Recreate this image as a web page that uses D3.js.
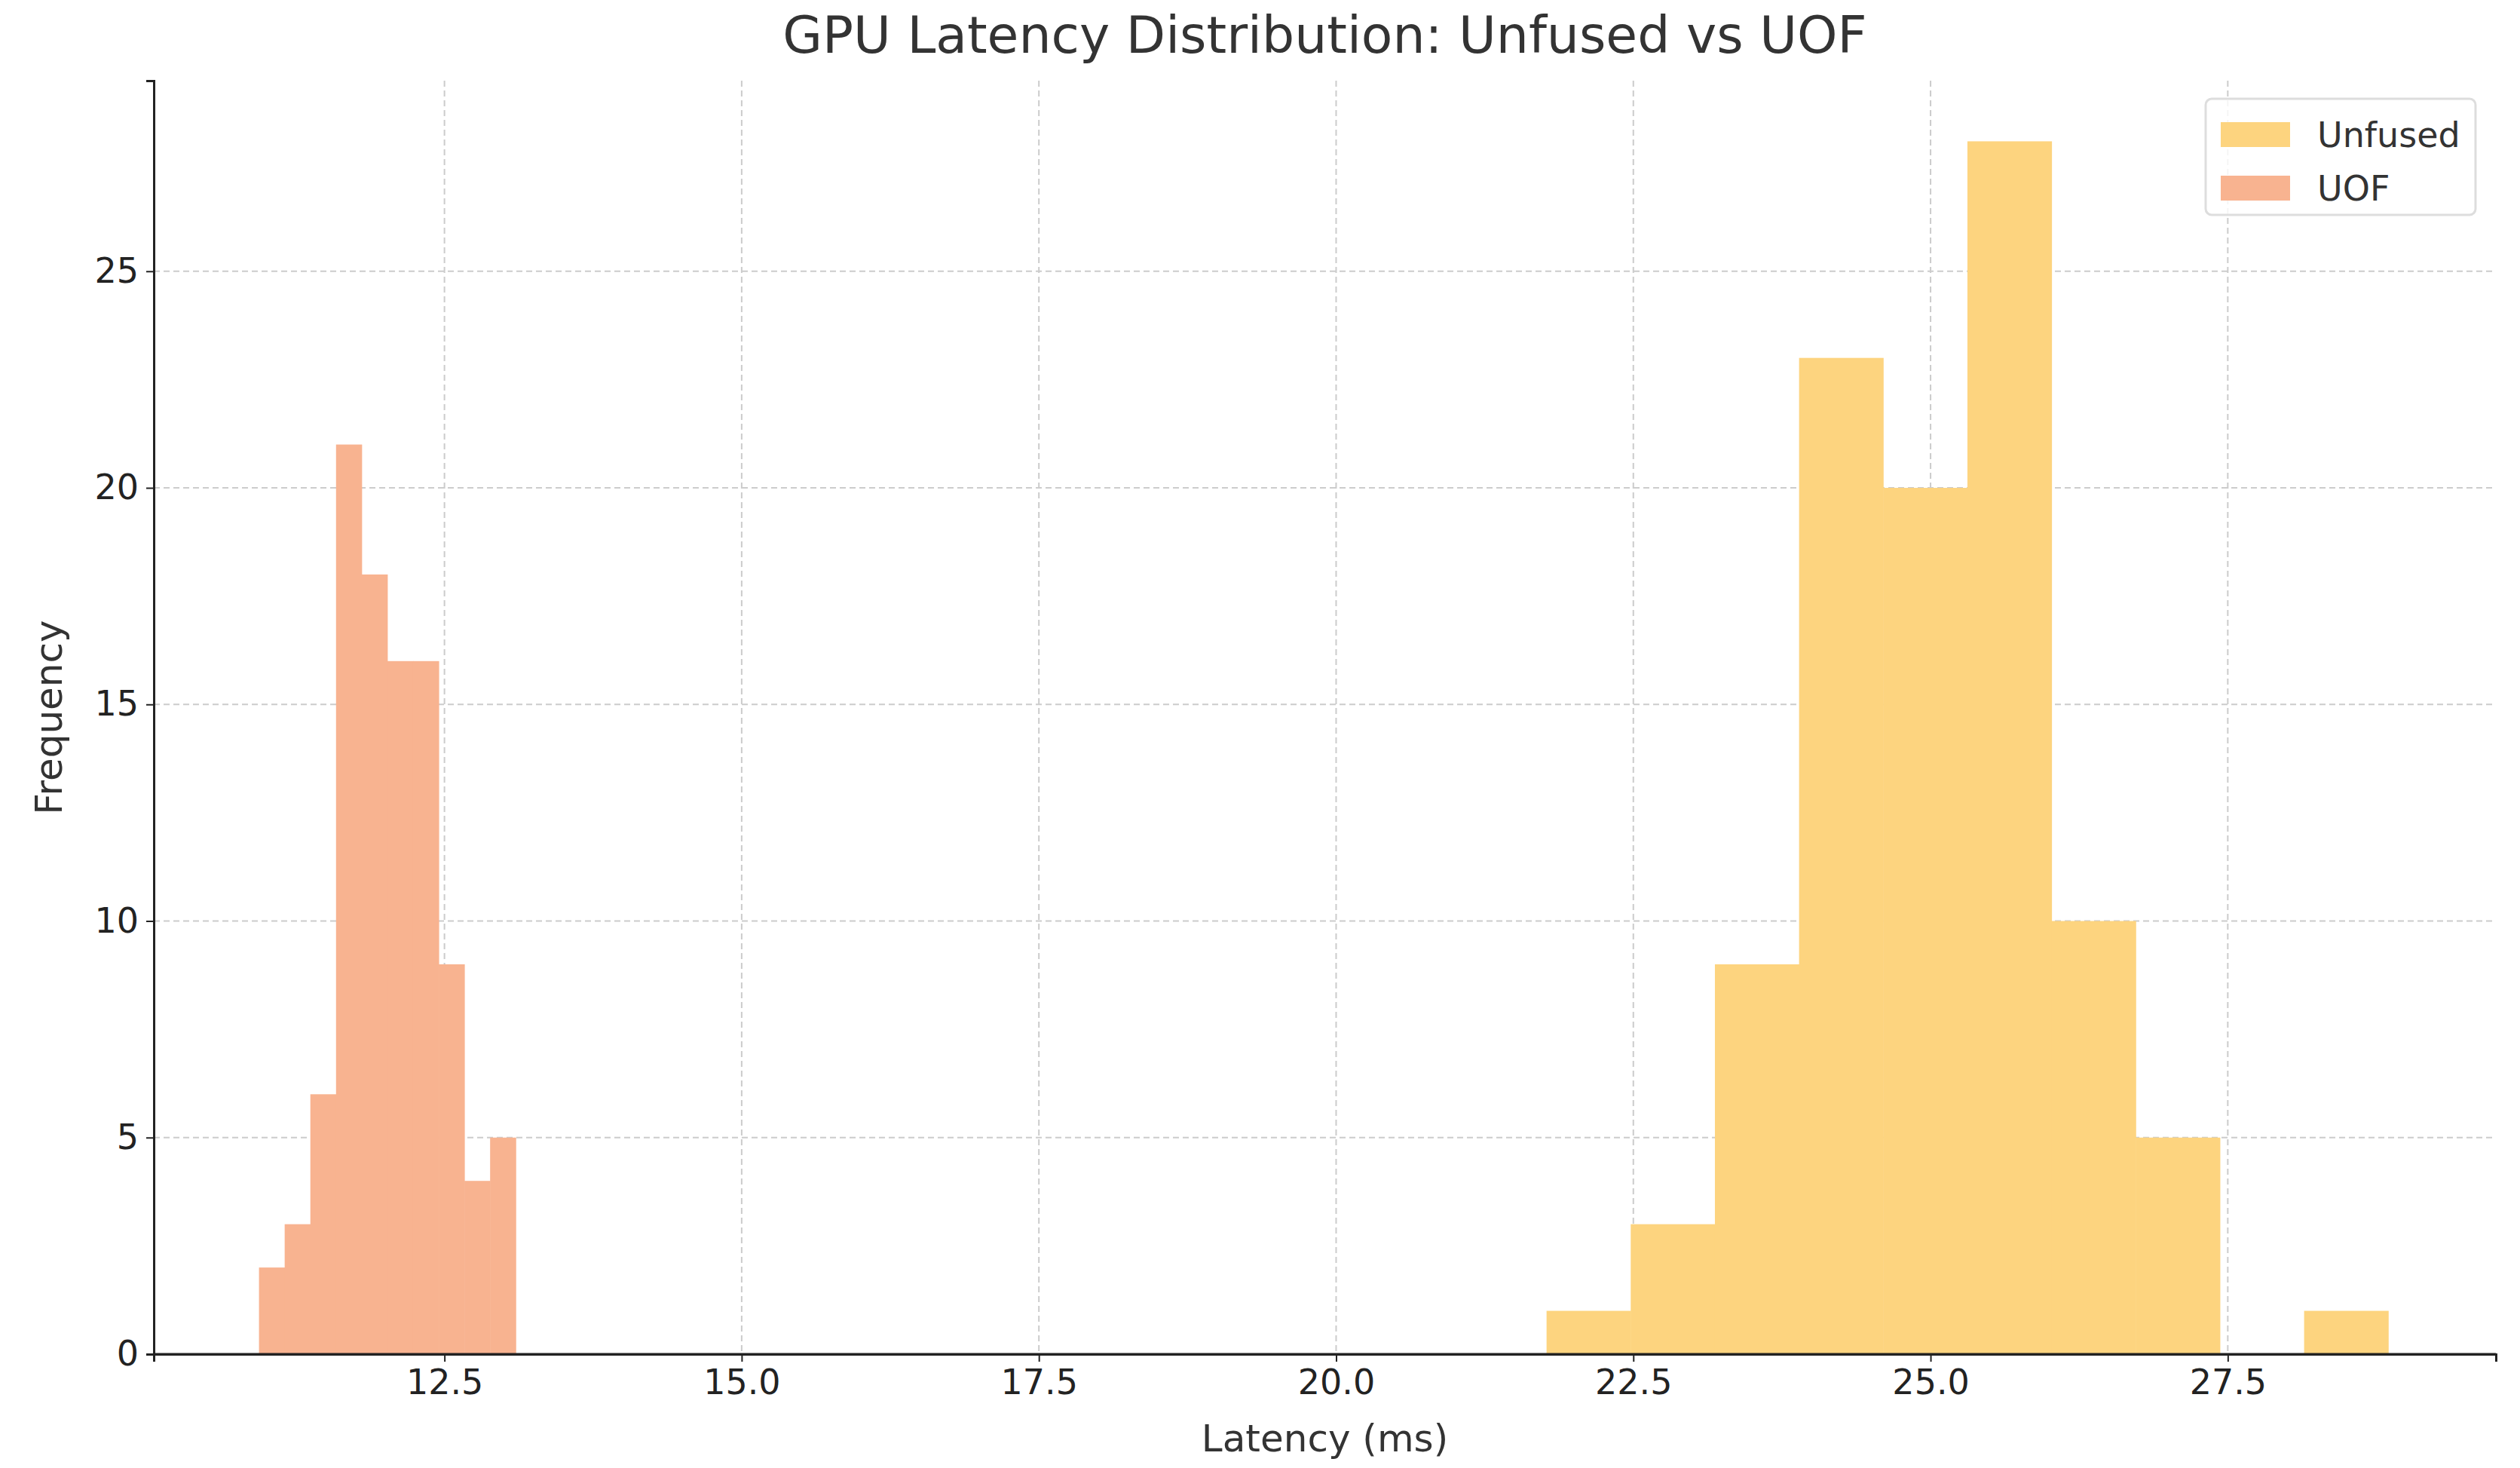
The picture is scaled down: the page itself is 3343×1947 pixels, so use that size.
<!DOCTYPE html><html><head><meta charset="utf-8"><script src="https://cdn.jsdelivr.net/npm/d3@7"></script>
<style>body{margin:0;background:#fff}text{font-family:"DejaVu Sans",sans-serif;fill:#333}</style></head><body>
<script>
const uofStart=10.94, uofWidth=0.216;
const uofCounts=[2,3,6,21,18,16,16,9,4,5];
const unfStart=21.77, unfWidth=0.708;
const unfCounts=[1,3,9,23,20,28,10,5,0,1];
const xTicks=[12.5,15.0,17.5,20.0,22.5,25.0,27.5];
const yTicks=[0,5,10,15,20,25];
const W=3343,H=1947,k=2.143;
const m={l:204,r:3311,t:107,b:1796};
const svg=d3.select("body").append("svg").attr("width",W).attr("height",H);
const x=d3.scaleLinear().domain([10.055,29.755]).range([m.l,m.r]);
const y=d3.scaleLinear().domain([0,29.4]).range([m.b,m.t]);
const g=svg.append("g");
xTicks.forEach(t=>g.append("line").attr("x1",x(t)).attr("x2",x(t)).attr("y1",m.t).attr("y2",m.b).attr("stroke","#ccc").attr("stroke-width",2).attr("stroke-dasharray","8,5"));
yTicks.forEach(t=>g.append("line").attr("x1",m.l).attr("x2",m.r).attr("y1",y(t)).attr("y2",y(t)).attr("stroke","#ccc").attr("stroke-width",2).attr("stroke-dasharray","8,5"));
function bars(start,w,counts,col){
 svg.append("g").selectAll("rect").data(counts).join("rect")
 .attr("x",(d,i)=>x(start+i*w)).attr("width",(d,i)=>x(start+(i+1)*w)-x(start+i*w)+0.5)
 .attr("y",d=>y(d)).attr("height",d=>y(0)-y(d)).attr("fill",col);
}
bars(unfStart,unfWidth,unfCounts,"#fdd47f");
bars(uofStart,uofWidth,uofCounts,"#f8b390");
const xa=svg.append("g").attr("transform",`translate(0,${m.b})`).call(d3.axisBottom(x).tickValues(xTicks).tickFormat(d3.format(".1f")).tickSize(10).tickPadding(10));
const ya=svg.append("g").attr("transform",`translate(${m.l},0)`).call(d3.axisLeft(y).tickValues(yTicks).tickSize(10).tickPadding(10));
[xa,ya].forEach(a=>{a.select(".domain").attr("stroke","#222").attr("stroke-width",3);a.selectAll(".tick line").attr("stroke","#222").attr("stroke-width",2);a.selectAll("text").attr("font-size",46).style("fill","#222");});
svg.append("line").attr("x1",m.l).attr("x2",m.r).attr("y1",m.b).attr("y2",m.b).attr("stroke","#222").attr("stroke-width",3);
svg.append("text").attr("x",(m.l+m.r)/2).attr("y",70).attr("text-anchor","middle").attr("font-size",68).text("GPU Latency Distribution: Unfused vs UOF");
svg.append("text").attr("x",(m.l+m.r)/2).attr("y",1925).attr("text-anchor","middle").attr("font-size",50).text("Latency (ms)");
svg.append("text").attr("transform",`translate(82,${(m.t+m.b)/2}) rotate(-90)`).attr("text-anchor","middle").attr("font-size",50).text("Frequency");
const lg=svg.append("g").attr("transform","translate(2926,131)");
lg.append("rect").attr("width",358).attr("height",154).attr("rx",8).attr("fill","rgba(255,255,255,0.8)").attr("stroke","#ddd").attr("stroke-width",3);
[["Unfused","#fdd47f"],["UOF","#f8b390"]].forEach(([n,c],i)=>{
 lg.append("rect").attr("x",20).attr("y",31+i*71).attr("width",92).attr("height",33).attr("fill",c);
 lg.append("text").attr("x",148).attr("y",64+i*71).attr("font-size",46).text(n);
});
</script></body></html>
